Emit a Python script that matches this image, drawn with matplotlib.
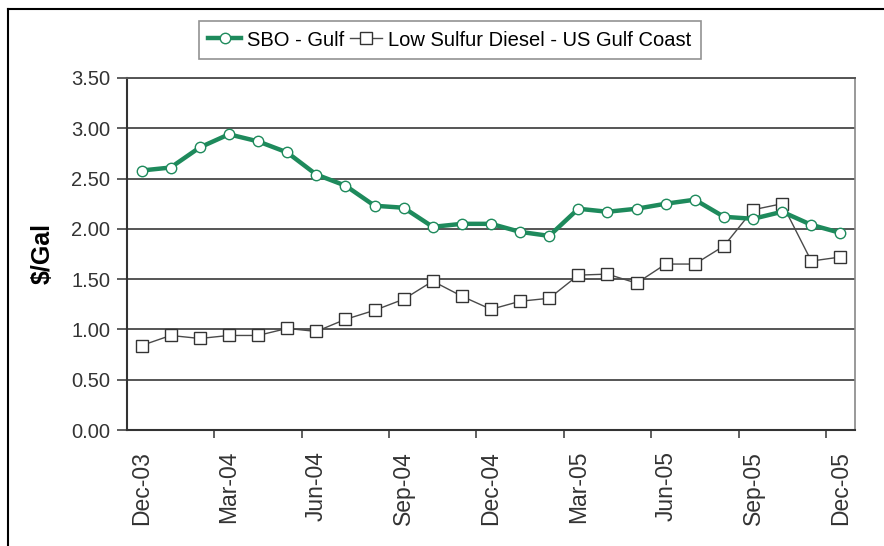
import matplotlib.pyplot as plt
from matplotlib.lines import Line2D
import numpy as np

months = ["Dec-03", "Jan-04", "Feb-04", "Mar-04", "Apr-04", "May-04", "Jun-04",
          "Jul-04", "Aug-04", "Sep-04", "Oct-04", "Nov-04", "Dec-04", "Jan-05",
          "Feb-05", "Mar-05", "Apr-05", "May-05", "Jun-05", "Jul-05", "Aug-05",
          "Sep-05", "Oct-05", "Nov-05", "Dec-05"]
sbo_gulf = [2.58, 2.61, 2.81, 2.94, 2.87, 2.76, 2.54, 2.43, 2.23, 2.21, 2.02, 2.05,
            2.05, 1.97, 1.93, 2.20, 2.17, 2.20, 2.25, 2.29, 2.12, 2.10, 2.17, 2.04, 1.96]
diesel_gulf = [0.84, 0.94, 0.91, 0.94, 0.94, 1.01, 0.98, 1.10, 1.19, 1.30, 1.48, 1.33,
               1.20, 1.28, 1.31, 1.54, 1.55, 1.46, 1.65, 1.65, 1.83, 2.19, 2.25, 1.68, 1.72]
y_ticks = [0.0, 0.5, 1.0, 1.5, 2.0, 2.5, 3.0, 3.5]

regular = ['Liberation Sans', 'DejaVu Sans']

fig = plt.figure(figsize=(8.84, 5.46), dpi=100)
ax = fig.add_axes([127 / 884, 1 - 430 / 546, 728 / 884, 352 / 546])

x = np.arange(len(months))
ax.plot(x, sbo_gulf, color='#1e8a5c', lw=3.2, marker='o', ms=7.5,
        mfc='white', mec='#1e8a5c', mew=1.0, label='SBO - Gulf', zorder=4)
ax.plot(x, diesel_gulf, color='#4a4a4a', lw=1.0, marker='s', ms=9,
        mfc='white', mec='#333333', mew=1.0,
        label='Low Sulfur Diesel - US Gulf Coast', zorder=3)

ax.set_xlim(-0.5, len(months) - 0.5)
ax.set_ylim(0, 3.5)
ax.set_yticks(y_ticks)
ax.set_yticklabels(['%.2f' % v for v in y_ticks], family=regular, fontsize=14.5,
                   color='#333333')
ax.yaxis.grid(True, color='#555555', lw=1.4)
ax.set_axisbelow(True)

# labels every quarter, tick marks on category boundaries
ax.set_xticks(x[::3])
ax.set_xticklabels(months[::3], rotation=90, family=regular, fontsize=16.5,
                   color='#333333')
ax.tick_params(axis='x', which='major', length=0, pad=15)
ax.set_xticks(np.arange(2.5, len(months) - 1, 3), minor=True)
ax.tick_params(axis='x', which='minor', length=6, width=1.2, color='#444444')
ax.tick_params(axis='y', length=7, width=1.2, color='#444444', pad=5)

for side in ['left', 'bottom']:
    ax.spines[side].set_color('#333333')
    ax.spines[side].set_linewidth(1.5)
ax.spines['top'].set_color('#555555')
ax.spines['top'].set_linewidth(1.4)
ax.spines['right'].set_color('#888888')
ax.spines['right'].set_linewidth(1.2)

ax.set_ylabel('$/Gal', family=regular, fontsize=18, fontweight='bold', labelpad=12)

leg = fig.legend(loc='center', bbox_to_anchor=(450 / 884, 1 - 40 / 546), ncol=2,
                 prop={'family': regular, 'size': 14.5}, frameon=True, fancybox=False,
                 handlelength=1.6, handletextpad=0.3, columnspacing=0.3,
                 borderpad=0.45)
leg.get_frame().set_edgecolor('#777777')
leg.get_frame().set_linewidth(1.2)

# outer frame of the original picture
fig.add_artist(Line2D([8 / 884, 1.0], [1 - 9 / 546, 1 - 9 / 546],
                      transform=fig.transFigure, color='black', lw=1.5))
fig.add_artist(Line2D([8 / 884, 8 / 884], [0.0, 1 - 9 / 546],
                      transform=fig.transFigure, color='black', lw=1.5))

fig.savefig('out.png', dpi=100)
